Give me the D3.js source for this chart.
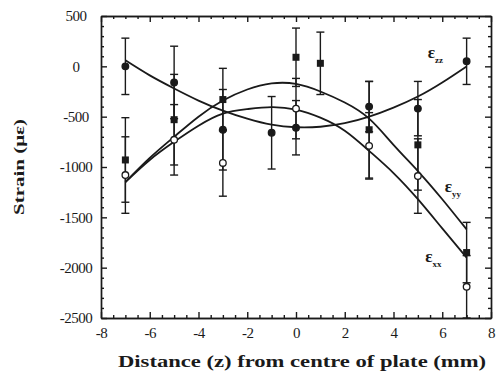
<!DOCTYPE html>
<html>
<head>
<meta charset="utf-8">
<style>
body { margin: 0; background: #fff; }
svg { display: block; }
text { font-family: "Liberation Serif", "Times New Roman", serif; fill: #1a1a1a; }
</style>
</head>
<body>
<svg width="500" height="375"></svg>
<script src="https://cdn.jsdelivr.net/npm/d3@7"></script>
<script>
// tick labels
var x_ticks = [-8, -6, -4, -2, 0, 2, 4, 6, 8];
var y_ticks = [500, 0, -500, -1000, -1500, -2000, -2500];

// fitted curves (x in mm, strain in micro strain)
var fit_x   = [-7, -6, -5, -4, -3, -2, -1, 0, 1, 2, 3, 4, 5, 6, 7];
var fit_ezz = [60, -90, -220, -340, -440, -520, -580, -605, -600, -565, -500, -410, -300, -160, 0];
var fit_eyy = [-1150, -910, -700, -500, -340, -230, -170, -175, -250, -360, -520, -780, -1040, -1320, -1620];
var fit_exx = [-1150, -930, -750, -590, -470, -425, -405, -430, -510, -640, -840, -1060, -1320, -1610, -1900];

// measured points with error (+/-)
var ezz_x   = [-7, -5, -3, -1, 0, 3, 5, 7];
var ezz_v   = [0, -160, -630, -660, -610, -400, -420, 50];
var ezz_err = [280, 360, 400, 360, 270, 250, 270, 230];

var eyy_x   = [-7, -5, -3, 0, 1, 3, 5, 7];
var eyy_v   = [-930, -530, -330, 90, 30, -630, -780, -1850];
var eyy_err = [420, 450, 310, 290, 310, 480, 450, 300];

var exx_x   = [-7, -5, -3, 0, 3, 5, 7];
var exx_v   = [-1080, -730, -960, -420, -790, -1090, -2190];
var exx_err = [380, 350, 330, 300, 330, 370, 310];

var ink = "#1a1a1a";
var svg = d3.select("svg");

var x = d3.scaleLinear().domain([-8, 8]).range([101, 491]);
var y = d3.scaleLinear().domain([-2500, 500]).range([318, 16]);

var x_minor = d3.range(-8, 8.01, 0.5).filter(function(d) { return x_ticks.indexOf(d) < 0; });
var y_minor = d3.range(-2500, 501, 100).filter(function(d) { return y_ticks.indexOf(d) < 0; });

// plain hyphen, no thousands comma
function plain(d) { return String(d); }

function style_axis(g) {
	g.selectAll("path, line").attr("stroke", ink).attr("stroke-width", 1.4);
	g.selectAll("text").attr("fill", ink)
	  .style("font-size", "15px")
	  .style("letter-spacing", "-0.5px")
	  .style("font-family", "'Liberation Serif', 'Times New Roman', serif");
}

// major axes
svg.append("g").attr("transform", "translate(0,318)")
  .call(d3.axisBottom(x).tickValues(x_ticks).tickSize(-6).tickSizeOuter(0).tickPadding(9).tickFormat(plain))
  .call(style_axis);
var yax = svg.append("g").attr("transform", "translate(101,0)")
  .call(d3.axisLeft(y).tickValues(y_ticks).tickSize(-6).tickSizeOuter(0).tickFormat(plain))
  .call(style_axis);
// labels on the left are centred in the reference
yax.selectAll(".tick text").attr("x", -25).attr("text-anchor", "middle");
svg.append("g").attr("transform", "translate(0,16)")
  .call(d3.axisTop(x).tickValues(x_ticks).tickSize(-6).tickSizeOuter(0).tickFormat(""))
  .call(style_axis);
svg.append("g").attr("transform", "translate(491,0)")
  .call(d3.axisRight(y).tickValues(y_ticks).tickSize(-6).tickSizeOuter(0).tickFormat(""))
  .call(style_axis);

// minor ticks
svg.append("g").attr("transform", "translate(0,318)")
  .call(d3.axisBottom(x).tickValues(x_minor).tickSize(-3).tickSizeOuter(0).tickFormat(""))
  .call(style_axis);
svg.append("g").attr("transform", "translate(0,16)")
  .call(d3.axisTop(x).tickValues(x_minor).tickSize(-3).tickSizeOuter(0).tickFormat(""))
  .call(style_axis);
svg.append("g").attr("transform", "translate(101,0)")
  .call(d3.axisLeft(y).tickValues(y_minor).tickSize(-3).tickSizeOuter(0).tickFormat(""))
  .call(style_axis);
svg.append("g").attr("transform", "translate(491,0)")
  .call(d3.axisRight(y).tickValues(y_minor).tickSize(-3).tickSizeOuter(0).tickFormat(""))
  .call(style_axis);

// fitted curves
var line = d3.line()
  .x(function(d) { return x(d[0]); })
  .y(function(d) { return y(d[1]); })
  .curve(d3.curveNatural);

[fit_ezz, fit_eyy, fit_exx].forEach(function(vals) {
	svg.append("path")
	  .datum(fit_x.map(function(d, i) { return [d, vals[i]]; }))
	  .attr("d", line)
	  .attr("fill", "none")
	  .attr("stroke", ink)
	  .attr("stroke-width", 1.8);
});

// error bars + markers
function points(xs, vs, errs, shape) {
	var data = xs.map(function(d, i) { return {x: d, v: vs[i], e: errs[i]}; });
	var g = svg.append("g");
	var bars = g.selectAll("g.bar").data(data).enter().append("g").attr("class", "bar");
	bars.append("line")
	  .attr("x1", function(d) { return x(d.x); })
	  .attr("x2", function(d) { return x(d.x); })
	  .attr("y1", function(d) { return y(d.v + d.e); })
	  .attr("y2", function(d) { return y(d.v - d.e); })
	  .attr("stroke", ink).attr("stroke-width", 1.4);
	[1, -1].forEach(function(s) {
		bars.append("line")
		  .attr("x1", function(d) { return x(d.x) - 4; })
		  .attr("x2", function(d) { return x(d.x) + 4; })
		  .attr("y1", function(d) { return y(d.v + s * d.e); })
		  .attr("y2", function(d) { return y(d.v + s * d.e); })
		  .attr("stroke", ink).attr("stroke-width", 1.4);
	});
	if (shape == "square") {
		bars.append("rect")
		  .attr("x", function(d) { return x(d.x) - 3.5; })
		  .attr("y", function(d) { return y(d.v) - 3.5; })
		  .attr("width", 7).attr("height", 7)
		  .attr("fill", ink);
	} else {
		bars.append("circle")
		  .attr("cx", function(d) { return x(d.x); })
		  .attr("cy", function(d) { return y(d.v); })
		  .attr("r", 3.3)
		  .attr("fill", shape == "open" ? "#fff" : ink)
		  .attr("stroke", ink).attr("stroke-width", 1.3);
	}
}

points(ezz_x, ezz_v, ezz_err, "dot");
points(eyy_x, eyy_v, eyy_err, "square");
points(exx_x, exx_v, exx_err, "open");

// curve labels
function eps_label(px, py, sub) {
	var t = svg.append("text").attr("x", px).attr("y", py)
	  .style("font-size", "17px").style("font-weight", "bold");
	t.append("tspan").text("\u03b5");
	t.append("tspan").attr("dy", 5).style("font-size", "9px").text(sub);
}
eps_label(x(5.4), y(80), "zz");
eps_label(x(6.1), y(-1250), "yy");
eps_label(x(5.3), y(-1940), "xx");

// axis titles
svg.append("text")
  .attr("x", 118).attr("y", 367)
  .attr("textLength", 368).attr("lengthAdjust", "spacingAndGlyphs")
  .style("font-size", "16px").style("font-weight", "bold")
  .text("Distance (z) from centre of plate (mm)");

svg.append("text")
  .attr("transform", "translate(24,167) rotate(-90)")
  .attr("text-anchor", "middle")
  .attr("textLength", 96).attr("lengthAdjust", "spacingAndGlyphs")
  .style("font-size", "14px").style("font-weight", "bold")
  .text("Strain (\u03bc\u03b5)");
</script>
</body>
</html>
